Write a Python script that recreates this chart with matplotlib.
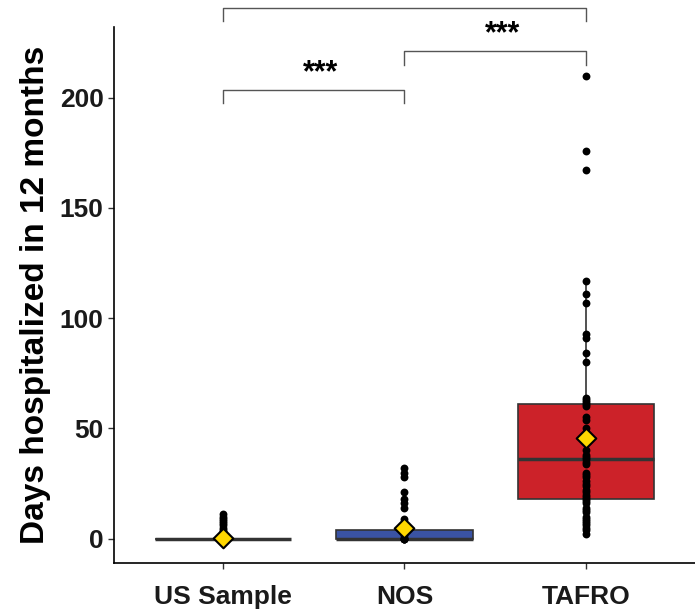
import matplotlib
matplotlib.use("Agg")
import matplotlib.pyplot as plt
import numpy as np

plt.rcParams['font.family'] = ['Liberation Sans', 'DejaVu Sans']

groups = ["US Sample", "NOS", "TAFRO"]
fills = ["#7f7f7f", "#3A53A4", "#CC2229"]

# points (days)
us_days = [0, 0, 0, 0, 0, 0, 0, 0, 1, 2, 3, 4, 5, 6, 7, 8, 9, 10, 11]
nos_days = [0, 0, 0, 0, 1, 2, 3, 4, 5, 9, 14, 16, 18, 21, 28, 30, 32]
tafro_days = [2, 4, 5, 6, 7, 8, 9, 10, 12, 13, 14, 16, 17, 18, 19, 20, 21, 22,
              24, 25, 26, 28, 29, 30, 34, 35, 36, 37, 38, 40, 50, 54, 55, 60,
              61, 62, 63, 64, 80, 84, 91, 93, 107, 111, 117, 167, 176, 210]

# box statistics as drawn
q1 = [0, 0, 18]
median = [0, 0, 36]
q3 = [0, 4, 61]
whisk_lo = [0, 0, 2]
whisk_hi = [0, 9, 117]
means = [0.3, 4.8, 45.8]

# significance brackets: (left group, right group, height, label)
brackets = [(1, 2, 203.6, "***"), (2, 3, 221, "***"), (1, 3, 240.8, "")]

fig = plt.figure(figsize=(6.95, 6.15), dpi=100)
ax = fig.add_axes([0.164, 0.0846, 0.836, 0.8715])

positions = [1, 2, 3]
stats = [dict(q1=q1[i], med=median[i], q3=q3[i], whislo=whisk_lo[i],
              whishi=whisk_hi[i], label=groups[i]) for i in range(3)]
bp = ax.bxp(stats, positions=positions, widths=0.75, patch_artist=True,
            showfliers=False, showcaps=False,
            boxprops=dict(edgecolor="#333333", linewidth=1.2),
            whiskerprops=dict(color="#333333", linewidth=1.2),
            medianprops=dict(color="#333333", linewidth=2.5))
for patch, c in zip(bp["boxes"], fills):
    patch.set_facecolor(c)

for pos, vals in zip(positions, [us_days, nos_days, tafro_days]):
    ax.scatter(np.full(len(vals), pos), vals, s=32, color="black",
               linewidths=0, zorder=3)
ax.scatter(positions, means, marker="D", s=100, facecolor="#FFD700",
           edgecolor="black", linewidths=1.5, zorder=4)

tick = 6.2
for a, b, h, lab in brackets:
    ax.plot([a, a, b, b], [h - tick, h, h, h - tick], color="#555555",
            linewidth=1.0, clip_on=False)
    if lab:
        ax.text((a + b) / 2 + 0.04, h + 7.5, lab, ha="center", va="center",
                fontsize=22, fontweight="bold", clip_on=False)

ax.set_xlim(0.4, 3.6)
ax.set_ylim(-11, 232)
ax.set_xticks(positions)
ax.set_xticklabels(groups)
ax.set_yticks([0, 50, 100, 150, 200])
ax.tick_params(axis="both", labelsize=19, length=4, width=1, color="#333333")
for lab in ax.get_xticklabels() + ax.get_yticklabels():
    lab.set_fontweight("bold")
    lab.set_color("#1a1a1a")
ax.tick_params(axis="x", pad=12)
ax.set_ylabel("Days hospitalized in 12 months", fontsize=24,
              fontweight="bold", labelpad=6)

for side in ["top", "right"]:
    ax.spines[side].set_visible(False)
for side in ["left", "bottom"]:
    ax.spines[side].set_linewidth(1.2)
    ax.spines[side].set_color("black")

fig.savefig("out.png", dpi=100)
